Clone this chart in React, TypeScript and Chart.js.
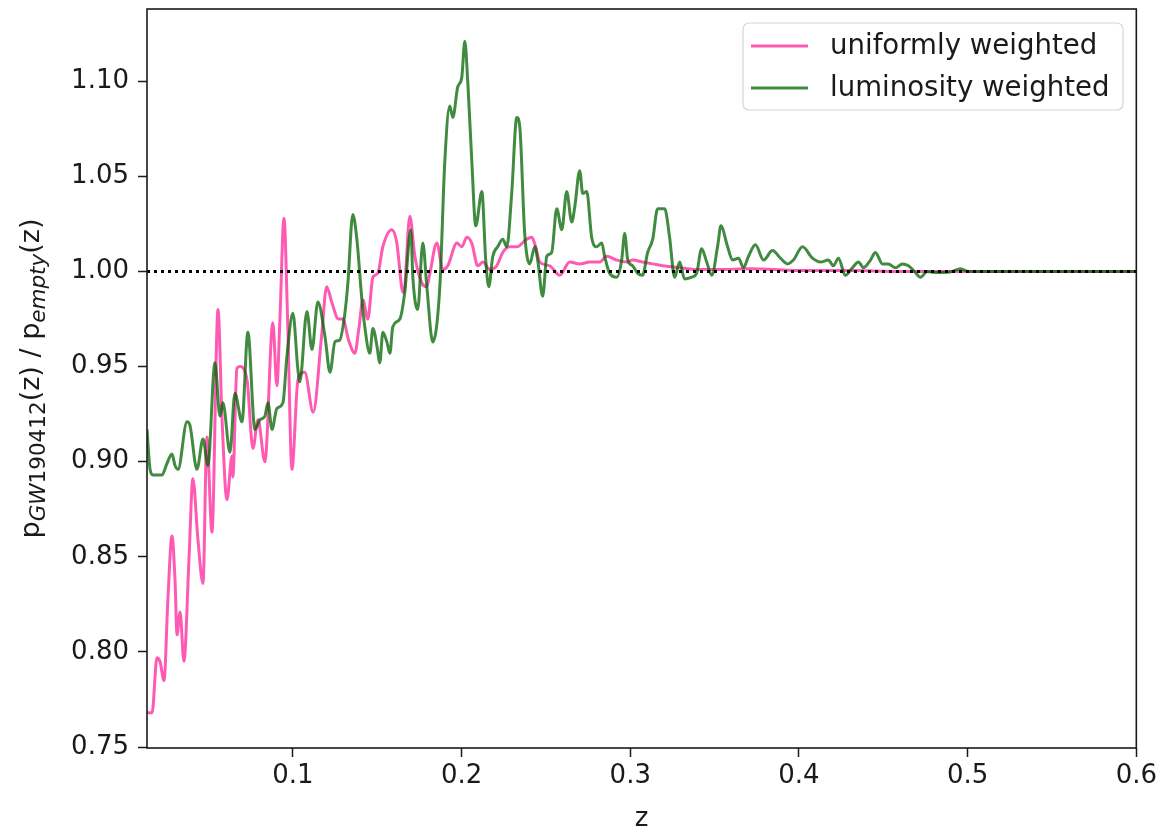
import React, { useEffect, useRef } from "react";
import { Chart, registerables } from "chart.js";

Chart.register(...registerables);

// Redshift grid and ratio for the uniformly weighted catalogue
const zUniform = [
  0.0135, 0.0165, 0.0194, 0.0212, 0.0236, 0.0259, 0.0283, 0.0301, 0.0313, 0.0331,
  0.0354, 0.0384, 0.0407, 0.0437, 0.0467, 0.049, 0.052, 0.0556, 0.058, 0.0609,
  0.0639, 0.0644, 0.0668, 0.0686, 0.0728, 0.0763, 0.0793, 0.0834, 0.0881, 0.0905,
  0.0923, 0.0947, 0.097, 0.0994, 0.103, 0.107, 0.112, 0.117, 0.12, 0.123,
  0.127, 0.1296, 0.133, 0.1367, 0.1391, 0.1415, 0.1444, 0.1474, 0.1503, 0.1533,
  0.1586, 0.1616, 0.1646, 0.1657, 0.1693, 0.1723, 0.1764, 0.1794, 0.1812, 0.1853,
  0.1889, 0.1918, 0.1972, 0.2001, 0.2031, 0.206, 0.2096, 0.2126, 0.2167, 0.2208,
  0.2244, 0.2285, 0.2327, 0.2386, 0.2416, 0.2439, 0.2463, 0.2522, 0.2582, 0.2641,
  0.27, 0.276, 0.2819, 0.286, 0.292, 0.2979, 0.3014, 0.3073, 0.3133, 0.3192,
  0.3293, 0.3411, 0.353, 0.3707, 0.4003, 0.43, 0.4596, 0.5188, 0.6,
];
const uniformWeighted = [
  0.768, 0.768, 0.797, 0.795, 0.785, 0.828, 0.861, 0.838, 0.809, 0.821,
  0.795, 0.849, 0.891, 0.859, 0.836, 0.913, 0.863, 0.98, 0.922, 0.88,
  0.903, 0.892, 0.949, 0.95, 0.943, 0.907, 0.922, 0.9, 0.973, 0.94,
  0.975, 1.028, 0.97, 0.896, 0.943, 0.947, 0.926, 0.966, 0.992, 0.984,
  0.975, 0.975, 0.964, 0.957, 0.97, 0.985, 0.975, 0.997, 0.999, 1.013,
  1.022, 1.015, 0.991, 0.989, 1.029, 1.008, 0.994, 0.992, 0.999, 1.015,
  1.001, 1.003, 1.015, 1.013, 1.018, 1.015, 1.003, 1.005, 1.001, 1.003,
  1.01, 1.013, 1.013, 1.017, 1.018, 1.013, 1.005, 1.003, 0.998, 1.005,
  1.004, 1.005, 1.005, 1.008, 1.006, 1.005, 1.006, 1.005, 1.004, 1.003,
  1.002, 1.001, 1.001, 1.0015, 1.0005, 1.0005, 1.0, 1.0, 1.0,
];

// Redshift grid and ratio for the luminosity weighted catalogue
const zLuminosity = [
  0.0135, 0.0153, 0.0171, 0.0224, 0.0253, 0.0283, 0.0301, 0.0319, 0.0372, 0.039,
  0.0431, 0.0467, 0.0496, 0.0538, 0.0567, 0.0585, 0.0627, 0.0656, 0.0698, 0.0733,
  0.0775, 0.0804, 0.0834, 0.0852, 0.0876, 0.0905, 0.0941, 0.0964, 0.1, 0.1029,
  0.1041, 0.1083, 0.1113, 0.1148, 0.119, 0.122, 0.1249, 0.1278, 0.1308, 0.1326,
  0.1355, 0.1379, 0.1409, 0.1426, 0.1456, 0.1474, 0.1498, 0.1515, 0.1533, 0.1557,
  0.1575, 0.1592, 0.1634, 0.1663, 0.1699, 0.1711, 0.174, 0.177, 0.1794, 0.1829,
  0.1871, 0.19, 0.193, 0.1948, 0.1977, 0.2001, 0.2019, 0.2037, 0.206, 0.2084,
  0.212, 0.2143, 0.2161, 0.2185, 0.2214, 0.2244, 0.2268, 0.2297, 0.2327, 0.2345,
  0.2374, 0.2404, 0.2434, 0.2451, 0.2481, 0.2505, 0.2534, 0.2564, 0.2594, 0.2623,
  0.2653, 0.2671, 0.27, 0.2718, 0.2742, 0.2771, 0.2801, 0.2831, 0.2848, 0.2878,
  0.292, 0.2949, 0.2967, 0.2985, 0.3014, 0.3044, 0.3073, 0.3103, 0.3133, 0.3162,
  0.3204, 0.3233, 0.3263, 0.3293, 0.3322, 0.3364, 0.3393, 0.3423, 0.3453, 0.3483,
  0.3519, 0.3537, 0.3577, 0.3606, 0.3642, 0.3671, 0.3701, 0.3742, 0.379, 0.3843,
  0.389, 0.3932, 0.3967, 0.4021, 0.408, 0.4127, 0.4175, 0.4204, 0.4234, 0.4275,
  0.4317, 0.4353, 0.4382, 0.4424, 0.4453, 0.4495, 0.453, 0.4572, 0.4613, 0.4649,
  0.4685, 0.472, 0.4761, 0.4809, 0.4856, 0.4909, 0.4957, 0.5004, 0.5063, 0.6,
];
const luminosityWeighted = [
  0.917, 0.896, 0.893, 0.893, 0.899, 0.904, 0.898, 0.896, 0.921, 0.919,
  0.896, 0.912, 0.898, 0.952, 0.924, 0.931, 0.905, 0.936, 0.921, 0.968,
  0.917, 0.922, 0.924, 0.931, 0.917, 0.928, 0.931, 0.955, 0.978, 0.949,
  0.942, 0.979, 0.959, 0.984, 0.966, 0.947, 0.963, 0.964, 0.978, 0.994,
  1.03, 1.017, 0.985, 0.971, 0.957, 0.97, 0.961, 0.952, 0.968, 0.963,
  0.957, 0.971, 0.975, 0.989, 1.022, 0.997, 0.98, 1.015, 0.992, 0.963,
  0.992, 1.057, 1.087, 1.081, 1.097, 1.102, 1.121, 1.099, 1.059, 1.024,
  1.042, 1.006, 0.992, 1.008, 1.013, 1.017, 1.013, 1.041, 1.081, 1.076,
  1.02, 1.004, 1.013, 1.006, 0.987, 1.008, 1.01, 1.033, 1.022, 1.042,
  1.026, 1.034, 1.053, 1.041, 1.042, 1.018, 1.013, 1.015, 1.008, 0.999,
  0.997, 1.006, 1.02, 1.006, 1.003, 0.999, 0.998, 1.01, 1.017, 1.033,
  1.033, 1.018, 0.997, 1.005, 0.996, 0.997, 0.999, 1.012, 1.005, 0.998,
  1.014, 1.024, 1.013, 1.006, 1.007, 1.002, 1.008, 1.014, 1.006, 1.011,
  1.007, 1.004, 1.006, 1.013, 1.007, 1.005, 1.006, 1.003, 1.007, 0.998,
  1.002, 1.005, 1.002, 1.006, 1.01, 1.004, 1.004, 1.002, 1.004, 1.003,
  1.0, 0.997, 1.0, 0.9995, 0.9995, 1.0, 1.0015, 1.0, 1.0, 1.0,
];

// Axis limits, tick values and the reference level
const zLimits = [0.0135, 0.6];
const ratioLimits = [0.7495, 1.138];
const zTicks = [0.1, 0.2, 0.3, 0.4, 0.5, 0.6];
const ratioTicks = [0.75, 0.8, 0.85, 0.9, 0.95, 1.0, 1.05, 1.1];
const referenceRatio = 1.0;

const seriesLabels = ["uniformly weighted", "luminosity weighted"];
const FONT = "'DejaVu Sans', sans-serif";
const INK = "#1a1a1a";

const toPoints = (xs: number[], ys: number[]) => xs.map((x, i) => ({ x, y: ys[i] }));

// Frame, legend box and the y-axis label with subscripts
const decorations = {
  id: "decorations",
  afterDraw(chart: any) {
    const { ctx, chartArea } = chart;
    const { left, right, top, bottom } = chartArea;

    ctx.save();
    ctx.strokeStyle = INK;
    ctx.lineWidth = 1.6;
    ctx.strokeRect(left, top, right - left, bottom - top);

    // legend
    const bx = 743, by = 23, bw = 380, bh = 87, r = 6;
    ctx.beginPath();
    ctx.moveTo(bx + r, by);
    ctx.arcTo(bx + bw, by, bx + bw, by + bh, r);
    ctx.arcTo(bx + bw, by + bh, bx, by + bh, r);
    ctx.arcTo(bx, by + bh, bx, by, r);
    ctx.arcTo(bx, by, bx + bw, by, r);
    ctx.closePath();
    ctx.fillStyle = "rgba(255,255,255,0.8)";
    ctx.fill();
    ctx.strokeStyle = "#d6d6d6";
    ctx.lineWidth = 1.2;
    ctx.stroke();

    const entries = chart.data.datasets.filter((d: any) => d.label);
    entries.forEach((d: any, i: number) => {
      const yRow = 46 + i * 42;
      ctx.beginPath();
      ctx.moveTo(751, yRow);
      ctx.lineTo(808, yRow);
      ctx.strokeStyle = d.borderColor;
      ctx.lineWidth = 3;
      ctx.stroke();
      ctx.fillStyle = INK;
      ctx.font = `27.6px ${FONT}`;
      ctx.textBaseline = "middle";
      ctx.textAlign = "left";
      ctx.fillText(d.label, 830, yRow + 1);
    });

    // y-axis label: p_GW190412(z) / p_empty(z)
    const big = 27, small = 21.5;
    const runs = [
      { t: "p", size: big, italic: false, shift: 0 },
      { t: "GW", size: small, italic: true, shift: 6 },
      { t: "190412", size: small, italic: false, shift: 6 },
      { t: "(z) / p", size: big, italic: false, shift: 0 },
      { t: "empty", size: small, italic: true, shift: 6 },
      { t: "(z)", size: big, italic: false, shift: 0 },
    ];
    const fontOf = (run: any) => `${run.italic ? "oblique " : ""}${run.size}px ${FONT}`;
    let total = 0;
    const widths = runs.map((run) => {
      ctx.font = fontOf(run);
      const w = ctx.measureText(run.t).width;
      total += w;
      return w;
    });
    ctx.translate(30, (top + bottom) / 2);
    ctx.rotate(-Math.PI / 2);
    ctx.fillStyle = INK;
    ctx.textBaseline = "alphabetic";
    ctx.textAlign = "left";
    let x = -total / 2;
    runs.forEach((run, i) => {
      ctx.font = fontOf(run);
      ctx.fillText(run.t, x, 9 + run.shift);
      x += widths[i];
    });
    ctx.restore();
  },
};

export default function App() {
  const canvasRef = useRef<HTMLCanvasElement | null>(null);

  useEffect(() => {
    if (!canvasRef.current) return;
    const lineStyle = {
      borderWidth: 3,
      pointRadius: 0,
      cubicInterpolationMode: "monotone" as const,
      borderJoinStyle: "round" as const,
    };
    const chart = new Chart(canvasRef.current, {
      type: "line",
      data: {
        datasets: [
          {
            label: seriesLabels[0],
            data: toPoints(zUniform, uniformWeighted),
            borderColor: "rgba(255,20,147,0.7)",
            ...lineStyle,
            order: 2,
          },
          {
            label: seriesLabels[1],
            data: toPoints(zLuminosity, luminosityWeighted),
            borderColor: "rgba(0,100,0,0.75)",
            ...lineStyle,
            order: 1,
          },
          {
            label: "",
            data: toPoints(zLimits, [referenceRatio, referenceRatio]),
            borderColor: "#000",
            borderWidth: 3,
            borderDash: [3, 4],
            pointRadius: 0,
            order: 0,
          },
        ],
      },
      options: {
        animation: false,
        responsive: false,
        events: [],
        layout: { padding: { top: 9, right: 24, left: 0, bottom: 0 } },
        plugins: {
          legend: { display: false },
          tooltip: { enabled: false },
        },
        scales: {
          x: {
            type: "linear",
            min: zLimits[0],
            max: zLimits[1],
            afterBuildTicks: (scale: any) => {
              scale.ticks = zTicks.map((value) => ({ value }));
            },
            afterFit: (scale: any) => {
              scale.height = 87;
            },
            ticks: {
              callback: (v: any) => Number(v).toFixed(1),
              font: { family: FONT, size: 26 },
              color: INK,
              padding: 4,
              maxRotation: 0,
            },
            grid: {
              drawOnChartArea: false,
              drawTicks: true,
              tickLength: 9,
              tickWidth: 1.5,
              color: INK,
            },
            border: { display: false },
            title: {
              display: true,
              text: "z",
              font: { family: FONT, size: 26 },
              color: INK,
              padding: { top: 0, bottom: 0 },
            },
          },
          y: {
            type: "linear",
            min: ratioLimits[0],
            max: ratioLimits[1],
            afterBuildTicks: (scale: any) => {
              scale.ticks = ratioTicks.map((value) => ({ value }));
            },
            afterFit: (scale: any) => {
              scale.width = 147;
              scale.paddingTop = 0;
              scale.paddingBottom = 0;
            },
            ticks: {
              callback: (v: any) => Number(v).toFixed(2),
              font: { family: FONT, size: 26 },
              color: INK,
              padding: 9,
            },
            grid: {
              drawOnChartArea: false,
              drawTicks: true,
              tickLength: 9,
              tickWidth: 1.5,
              color: INK,
            },
            border: { display: false },
          },
        },
      },
      plugins: [decorations],
    });
    return () => chart.destroy();
  }, []);

  return (
    <div style={{ position: "absolute", left: 0, top: 0, width: 1161, height: 835, background: "#fff" }}>
      <canvas ref={canvasRef} width={1161} height={835} />
    </div>
  );
}
